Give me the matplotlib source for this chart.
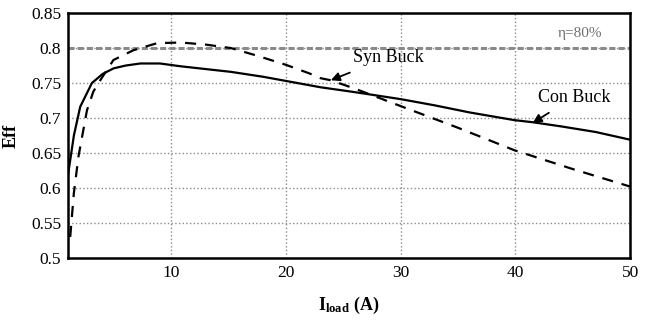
import numpy as np
import matplotlib
matplotlib.use('Agg')
import matplotlib.pyplot as plt

plt.rcParams['font.family'] = ['Liberation Serif', 'DejaVu Serif']
plt.rcParams['mathtext.fontset'] = 'custom'
plt.rcParams['mathtext.rm'] = 'Liberation Serif'
plt.rcParams['mathtext.bf'] = 'Liberation Serif:bold'

############################### dados ###############################
# Con Buck (linha cheia)
i_con = [1.0, 1.5, 2.05, 3.07, 4.0, 4.96, 6.0, 7.3, 9.0, 10.8, 13.0, 15.2, 18.0, 20.0,
         23.0, 26.0, 30.0, 33.0, 36.0, 39.9, 41.5, 44.0, 47.0, 50.0]
eff_con = [0.62, 0.675, 0.716, 0.750, 0.763, 0.771, 0.775, 0.778, 0.778, 0.774, 0.770,
           0.766, 0.759, 0.753, 0.744, 0.737, 0.727, 0.718, 0.708, 0.697, 0.694, 0.688,
           0.680, 0.669]

# Syn Buck (tracejada)
i_syn = [1.18, 1.5, 1.9, 2.64, 3.2, 3.8, 4.95, 6.7, 8.75, 10.8, 13.0, 15.2, 17.5, 20.0,
         22.0, 23.0, 23.9, 26.0, 30.0, 35.0, 39.9, 45.0, 50.0]
eff_syn = [0.53, 0.593, 0.645, 0.711, 0.738, 0.754, 0.783, 0.797, 0.807, 0.808, 0.805,
           0.800, 0.789, 0.776, 0.764, 0.757, 0.754, 0.742, 0.717, 0.686, 0.654, 0.627,
           0.602]

eta_ref = 0.80
xticks = [10, 20, 30, 40, 50]
yticks = [0.5, 0.55, 0.6, 0.65, 0.7, 0.75, 0.8, 0.85]

############################### figura ###############################
fig = plt.figure(figsize=(6.49, 3.20), dpi=100)
ax = fig.add_axes([0.105, 0.194, 0.866, 0.765])

ax.grid(True, color='#8c8c8c', linestyle=':', linewidth=1.0)
ax.axhline(eta_ref, color='#8a8a8a', linestyle=(0, (2, 1)), linewidth=2.2, zorder=2)

ax.plot(i_con, eff_con, 'k-', linewidth=1.6, zorder=3)
ax.plot(i_syn, eff_syn, 'k--', linewidth=1.6, dashes=(5, 4), zorder=3)

ax.text(45.6, 0.821, u'\u03b7=80%', color='#707070', fontsize=11, ha='center', va='center')

ax.annotate('Syn Buck', xy=(23.9, 0.754), xytext=(28.9, 0.787), fontsize=13,
            ha='center', va='center',
            arrowprops=dict(arrowstyle='-|>', color='k', lw=1.3, shrinkA=8, shrinkB=0))
ax.annotate('Con Buck', xy=(41.5, 0.693), xytext=(45.1, 0.730), fontsize=13,
            ha='center', va='center',
            arrowprops=dict(arrowstyle='-|>', color='k', lw=1.3, shrinkA=6, shrinkB=0))

ax.set_xlim(1, 50)
ax.set_ylim(0.5, 0.85)
ax.set_xticks(xticks)
ax.set_yticks(yticks)
ax.set_yticklabels(['0.5', '0.55', '0.6', '0.65', '0.7', '0.75', '0.8', '0.85'])
ax.tick_params(length=0, labelsize=12.5, pad=5)

for s in ax.spines.values():
    s.set_linewidth(1.8)

ax.set_xlabel(r'$\mathbf{I_{load}}$ (A)', fontsize=13, fontweight='bold', labelpad=10)
ax.set_ylabel('Eff', fontsize=13, fontweight='bold', labelpad=8)

plt.savefig('out.png', dpi=100)
